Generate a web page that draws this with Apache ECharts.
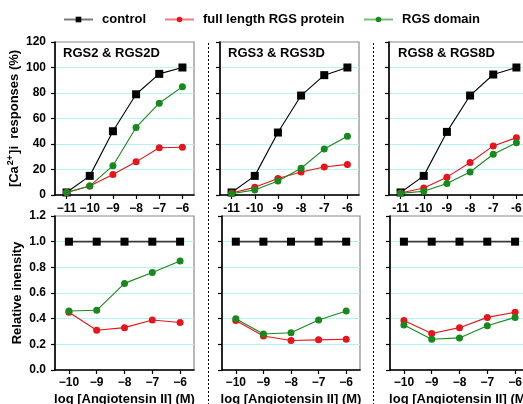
<!DOCTYPE html>
<html>
<head>
<meta charset="utf-8">
<script src="https://cdn.jsdelivr.net/npm/echarts@6/dist/echarts.min.js"></script>
<style>
  html, body { margin: 0; padding: 0; background: #fff; }
  #main { width: 523px; height: 404px; }
</style>
</head>
<body>
<div id="main"></div>
<script>
// log [Angiotensin II] (M)
var doseTop = [-11, -10, -9, -8, -7, -6];
var doseBottom = [-10, -9, -8, -7, -6];

// [Ca2+]i responses (%)
var ctrl2 = [2, 15, 50, 79, 95, 100];
var full2 = [2, 7, 16, 26, 37, 37.5];
var dom2 = [2, 7, 23, 53, 72, 85];
var ctrl3 = [2, 15, 49, 78, 94, 100];
var full3 = [1.5, 6, 13, 18, 22, 24];
var dom3 = [1, 4, 11, 21, 36, 46];
var ctrl8 = [2, 15, 49.5, 78, 94.5, 100];
var full8 = [1.5, 5.5, 14, 25.5, 38.5, 45];
var dom8 = [1.3, 3, 9, 18, 32, 41];

// relative intensity
var ctrlB = [1, 1, 1, 1, 1];
var full2B = [0.45, 0.31, 0.33, 0.39, 0.37];
var dom2B = [0.46, 0.465, 0.675, 0.76, 0.85];
var full3B = [0.385, 0.265, 0.23, 0.235, 0.24];
var dom3B = [0.4, 0.28, 0.29, 0.39, 0.46];
var full8B = [0.385, 0.285, 0.33, 0.41, 0.45];
var dom8B = [0.35, 0.24, 0.25, 0.345, 0.41];

var titles = ["RGS2 & RGS2D", "RGS3 & RGS3D", "RGS8 & RGS8D"];
var names = ["control", "full length RGS protein", "RGS domain"];

var FONT = "'Liberation Sans', Arial, sans-serif";
var RED = "#e8141c";
var GREEN = "#168a1c";
var GRIDLINE = "#b4f2f6";

var chart = echarts.init(document.getElementById("main"));

function zip(xs, ys) {
  return xs.map(function (x, i) { return [x, ys[i]]; });
}

var gridPos = [
  { left: 55, top: 42, width: 139, height: 153 },
  { left: 220, top: 42, width: 139, height: 153 },
  { left: 389, top: 42, width: 139, height: 153 },
  { left: 55, top: 216, width: 139, height: 154 },
  { left: 222, top: 216, width: 138, height: 154 },
  { left: 390, top: 216, width: 139, height: 154 },
];

var grids = gridPos.map(function (g) {
  return {
    left: g.left, top: g.top, width: g.width, height: g.height,
    outerBoundsMode: "none",
    containLabel: false,
    show: true, borderColor: "#8a8a8a", borderWidth: 1.2, backgroundColor: "#fff",
  };
});

function minusLabel(v) {
  return v < 0 ? "\u2212" + Math.abs(v) : String(v);
}
function hyphenLabel(v) {
  return String(v);
}

var xAxes = [];
var yAxes = [];
for (var i = 0; i < 6; i++) {
  var isTop = i < 3;
  var ticks = isTop ? doseTop : doseBottom;
  xAxes.push({
    type: "value",
    gridIndex: i,
    min: isTop ? -11.5 : -10.5,
    max: -5.5,
    axisLine: { onZero: false, lineStyle: { color: "#000", width: 1.6 } },
    axisTick: { customValues: ticks, length: 4, lineStyle: { color: "#000", width: 1.2 } },
    axisLabel: {
      customValues: ticks,
      formatter: (i === 1 || i === 2) ? hyphenLabel : minusLabel,
      color: "#000", fontFamily: FONT, fontWeight: "bold", fontSize: 12,
      margin: isTop ? 8 : 7,
    },
    splitLine: { show: false },
    name: isTop ? "" : "log [Angiotensin II] (M)",
    nameLocation: "middle",
    nameGap: 23,
    nameTextStyle: { color: "#000", fontFamily: FONT, fontWeight: "bold", fontSize: 13 },
  });
  yAxes.push({
    type: "value",
    gridIndex: i,
    min: 0,
    max: isTop ? 120 : 1.2,
    interval: isTop ? 20 : 0.2,
    axisLine: { show: true, lineStyle: { color: "#000", width: 1.6 } },
    axisTick: { show: true, length: 4, lineStyle: { color: "#000", width: 1.2 } },
    axisLabel: {
      show: i === 0 || i === 3,
      formatter: isTop ? "{value}" : function (v) { return v.toFixed(1); },
      color: "#000", fontFamily: FONT, fontWeight: "bold", fontSize: 12,
      margin: 9,
    },
    splitLine: {
      show: true, showMinLine: false, showMaxLine: false,
      lineStyle: { color: GRIDLINE, width: 1 },
    },
  });
}

yAxes[0].name = "[Ca{sup|2+}]i  responses (%)";
yAxes[0].nameLocation = "middle";
yAxes[0].nameGap = 33;
yAxes[0].nameTextStyle = {
  color: "#000", fontFamily: FONT, fontWeight: "bold", fontSize: 13,
  rich: {
    sup: { fontSize: 9, fontWeight: "bold", fontFamily: FONT, color: "#000", verticalAlign: "top", padding: [0, 1, 7, 1] },
  },
};
yAxes[3].name = "Relative inensity";
yAxes[3].nameLocation = "middle";
yAxes[3].nameGap = 31;
yAxes[3].nameTextStyle = { color: "#000", fontFamily: FONT, fontWeight: "bold", fontSize: 13 };

function lineSeries(name, idx, xs, ys, color, symbol) {
  return {
    name: name,
    type: "line",
    xAxisIndex: idx,
    yAxisIndex: idx,
    data: zip(xs, ys),
    symbol: symbol,
    symbolSize: symbol === "rect" ? 8 : 7,
    lineStyle: { color: color, width: 1.1 },
    itemStyle: { color: color },
    animation: false,
    z: symbol === "rect" ? 3 : 4,
  };
}

var topSets = [[ctrl2, full2, dom2], [ctrl3, full3, dom3], [ctrl8, full8, dom8]];
var bottomSets = [[ctrlB, full2B, dom2B], [ctrlB, full3B, dom3B], [ctrlB, full8B, dom8B]];

var series = [];
topSets.forEach(function (set, p) {
  series.push(lineSeries(names[0], p, doseTop, set[0], "#000", "rect"));
  series.push(lineSeries(names[1], p, doseTop, set[1], RED, "circle"));
  series.push(lineSeries(names[2], p, doseTop, set[2], GREEN, "circle"));
});
bottomSets.forEach(function (set, p) {
  var s = lineSeries(names[0], p + 3, doseBottom, set[0], "#000", "rect");
  s.lineStyle = { color: "#3a3a3a", width: 1.8 };
  series.push(s);
  series.push(lineSeries(names[1], p + 3, doseBottom, set[1], RED, "circle"));
  series.push(lineSeries(names[2], p + 3, doseBottom, set[2], GREEN, "circle"));
});

function legendAt(left, name, lineColor) {
  return {
    left: left,
    top: 13,
    padding: 0,
    itemWidth: 29,
    itemHeight: 7,
    selectedMode: false,
    data: [{ name: name, lineStyle: { color: lineColor, width: 2 } }],
    textStyle: { color: "#000", fontFamily: FONT, fontWeight: "bold", fontSize: 13, padding: [0, 0, 0, 4] },
  };
}

var option = {
  backgroundColor: "#fff",
  animation: false,
  textStyle: { fontFamily: FONT },
  title: titles.map(function (t, p) {
    return {
      text: t,
      left: [63, 228, 398][p],
      top: 47,
      padding: 0,
      textStyle: { color: "#000", fontFamily: FONT, fontWeight: "bold", fontSize: 13 },
    };
  }),
  legend: [
    legendAt(63, names[0], "#7a7a7a"),
    legendAt(164, names[1], "#f07a7a"),
    legendAt(363, names[2], "#7cbc7c"),
  ],
  grid: grids,
  xAxis: xAxes,
  yAxis: yAxes,
  series: series,
  graphic: [
    { type: "line", shape: { x1: 208.5, y1: 43, x2: 208.5, y2: 404 }, style: { stroke: "#000", lineWidth: 1, lineDash: [2, 2] } },
    { type: "line", shape: { x1: 373.5, y1: 43, x2: 373.5, y2: 404 }, style: { stroke: "#000", lineWidth: 1, lineDash: [2, 2] } },
  ],
};

chart.setOption(option);
</script>
</body>
</html>
